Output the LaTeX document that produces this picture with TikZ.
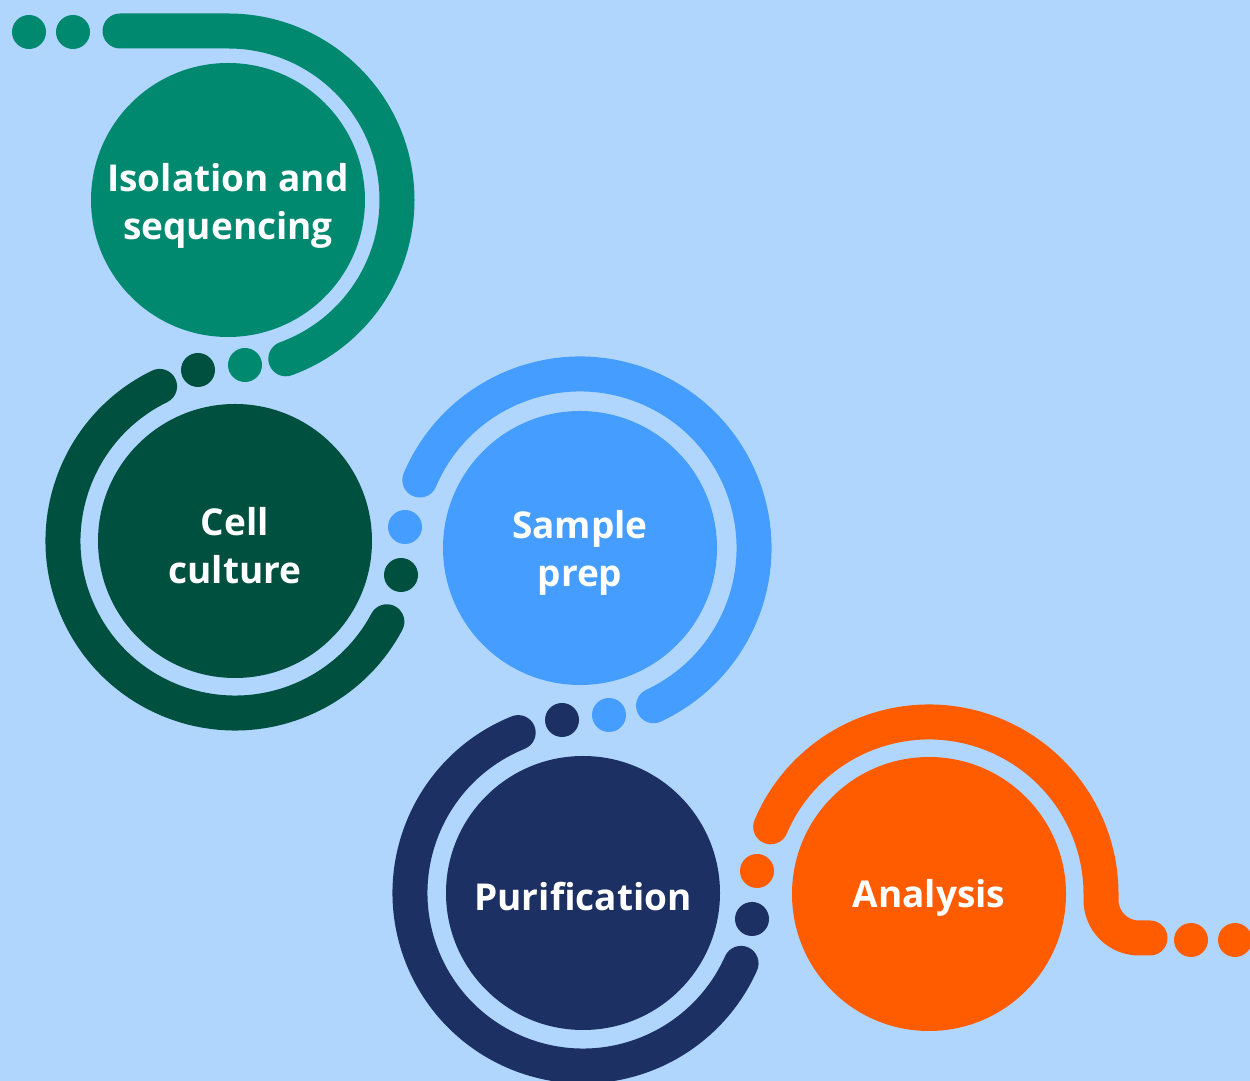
\documentclass[tikz,border=0pt]{standalone}
\usepackage{fontspec}
\newfontfamily\labfont{Open Sans}
\definecolor{bgc}{RGB}{176,214,253}
\definecolor{cteal}{RGB}{0,137,111}
\definecolor{cdkgreen}{RGB}{0,80,64}
\definecolor{cblue}{RGB}{69,158,255}
\definecolor{cnavy}{RGB}{28,48,99}
\definecolor{corange}{RGB}{255,92,0}
\tikzset{
  stage/.style={circle, minimum size=274pt, inner sep=0pt},
  stagetext/.style={inner sep=0pt, text=white, align=center,
    font=\labfont\bfseries\fontsize{37}{48}\selectfont},
  dot/.style={circle, minimum size=34pt, inner sep=0pt},
  ring/.style={line width=35pt, line cap=round}
}
\begin{document}
\begin{tikzpicture}[x=1pt,y=1pt]
\fill[bgc] (0,0) rectangle (1250,1081);
\useasboundingbox (0,0) rectangle (1250,1081);

% rings
\coordinate (r1s) at (120,1050);
\draw[ring, cteal] (r1s) -- (228,1050) arc[start angle=90, end angle=-70, radius=169pt];
\draw[ring, cdkgreen] (235,540) ++(116:172) arc[start angle=116, end angle=332, radius=172pt];
\draw[ring, cblue] (580,533) ++(157:174) arc[start angle=157, end angle=-65, radius=174pt];
\draw[ring, cnavy] (583,188) ++(112:173) arc[start angle=112, end angle=336, radius=173pt];
\coordinate (r5e) at (1150,143);
\draw[ring, corange] (929,187) ++(157:172) arc[start angle=157, end angle=0, radius=172pt]
  -- (1101,181) arc[start angle=180, end angle=270, radius=38pt] -- (r5e);

% stages
\node[stage, fill=cteal] (c1) at (228,881) {};
\node[stage, fill=cdkgreen] (c2) at (235,540) {};
\node[stage, fill=cblue] (c3) at (580,533) {};
\node[stage, fill=cnavy] (c4) at (583,188) {};
\node[stage, fill=corange] (c5) at (929,187) {};
\node[stagetext] (t1) at ([yshift=-6pt]c1.center) {Isolation and\\sequencing};
\node[stagetext] (t2) at ([yshift=-5pt]c2.center) {Cell\\culture};
\node[stagetext] (t3) at ([yshift=-5pt]c3.center) {Sample\\prep};
\node[stagetext] (t4) at ([yshift=-4pt]c4.center) {Purification};
\node[stagetext] (t5) at ([yshift=-4pt]c5.center) {Analysis};

% dots
\node[dot, fill=cteal] (d1a) at (29,1049) {};
\node[dot, fill=cteal] (d1b) at (73,1049) {};
\node[dot, fill=cteal] (d12a) at (245,716) {};
\node[dot, fill=cdkgreen] (d12b) at (198,711) {};
\node[dot, fill=cblue] (d23a) at (405,554) {};
\node[dot, fill=cdkgreen] (d23b) at (401,506) {};
\node[dot, fill=cblue] (d34a) at (609,366) {};
\node[dot, fill=cnavy] (d34b) at (562,361) {};
\node[dot, fill=corange] (d45a) at (757,210) {};
\node[dot, fill=cnavy] (d45b) at (752,162) {};
\node[dot, fill=corange] (d5a) at (1191,141) {};
\node[dot, fill=corange] (d5b) at (1235,141) {};
\end{tikzpicture}
\end{document}
